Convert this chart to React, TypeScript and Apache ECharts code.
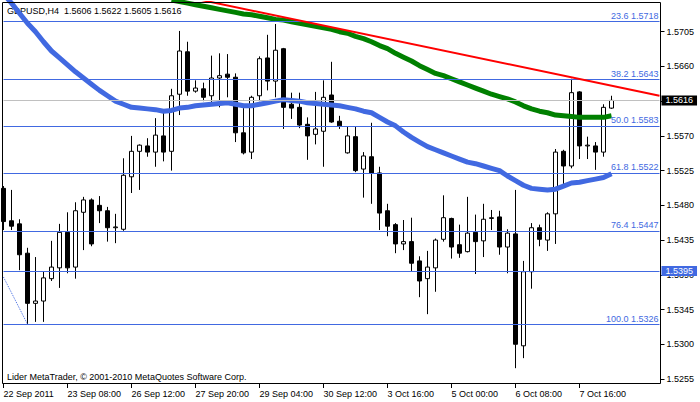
import React, { useEffect, useRef } from 'react';
import * as echarts from 'echarts';

// ---------- data ----------
const symbolName = 'GBPUSD,H4';
const copyrightText = 'Lider MetaTrader, © 2001-2010 MetaQuotes Software Corp.';
const xTickLabels = ['22 Sep 2011', '23 Sep 08:00', '26 Sep 12:00', '27 Sep 20:00', '29 Sep 04:00', '30 Sep 12:00', '3 Oct 16:00', '5 Oct 00:00', '6 Oct 08:00', '7 Oct 16:00'];
const barsPerLabel = 8;
const totalSlots = 83; // 77 bars + right chart shift

const opens = [1.5502, 1.5460, 1.5456, 1.5418, 1.5353, 1.5356, 1.5385, 1.5399, 1.5445, 1.5400,
  1.5471, 1.5487, 1.5480, 1.5473, 1.5451, 1.5449, 1.5517, 1.5550, 1.5557, 1.5549,
  1.5570, 1.5550, 1.5624, 1.5679, 1.5628, 1.5631, 1.5622, 1.5645, 1.5650, 1.5646,
  1.5574, 1.5549, 1.5622, 1.5671, 1.5641, 1.5683, 1.5611, 1.5607, 1.5585, 1.5572,
  1.5576, 1.5623, 1.5589, 1.5548, 1.5569, 1.5527, 1.5543, 1.5522, 1.5473, 1.5455,
  1.5430, 1.5433, 1.5408, 1.5385, 1.5399, 1.5436, 1.5463, 1.5429, 1.5420, 1.5445,
  1.5434, 1.5463, 1.5465, 1.5426, 1.5443, 1.5298, 1.5394, 1.5451, 1.5435, 1.5469,
  1.5550, 1.5531, 1.5627, 1.5557, 1.5557, 1.5549, 1.5606];
const highs = [1.5505, 1.5500, 1.5462, 1.5425, 1.5413, 1.5394, 1.5434, 1.5456, 1.5471, 1.5484,
  1.5491, 1.5489, 1.5492, 1.5478, 1.5469, 1.5541, 1.5570, 1.5559, 1.5567, 1.5593,
  1.5600, 1.5631, 1.5706, 1.5692, 1.5642, 1.5639, 1.5674, 1.5677, 1.5676, 1.5651,
  1.5606, 1.5622, 1.5673, 1.5701, 1.5715, 1.5684, 1.5626, 1.5626, 1.5594, 1.5627,
  1.5642, 1.5666, 1.5596, 1.5582, 1.5582, 1.5549, 1.5587, 1.5530, 1.5482, 1.5457,
  1.5461, 1.5464, 1.5414, 1.5421, 1.5437, 1.5493, 1.5464, 1.5455, 1.5491, 1.5468,
  1.5482, 1.5474, 1.5473, 1.5449, 1.5500, 1.5408, 1.5457, 1.5455, 1.5471, 1.5553,
  1.5552, 1.5644, 1.5628, 1.5569, 1.5562, 1.5611, 1.5622];
const lows = [1.5448, 1.5448, 1.5396, 1.5326, 1.5329, 1.5329, 1.5382, 1.5373, 1.5392, 1.5385,
  1.5422, 1.5427, 1.5457, 1.5433, 1.5431, 1.5447, 1.5496, 1.5500, 1.5543, 1.5530,
  1.5537, 1.5525, 1.5597, 1.5622, 1.5626, 1.5615, 1.5614, 1.5607, 1.5620, 1.5562,
  1.5546, 1.5540, 1.5615, 1.5629, 1.5620, 1.5579, 1.5592, 1.5580, 1.5539, 1.5559,
  1.5530, 1.5587, 1.5579, 1.5547, 1.5523, 1.5490, 1.5482, 1.5448, 1.5440, 1.5418,
  1.5422, 1.5395, 1.5361, 1.5339, 1.5368, 1.5433, 1.5411, 1.5412, 1.5419, 1.5391,
  1.5413, 1.5448, 1.5416, 1.5392, 1.5269, 1.5282, 1.5372, 1.5427, 1.5421, 1.5430,
  1.5506, 1.5528, 1.5540, 1.5540, 1.5526, 1.5543, 1.5605];
const closes = [1.5459, 1.5453, 1.5416, 1.5353, 1.5356, 1.5386, 1.5400, 1.5445, 1.5399, 1.5473,
  1.5487, 1.5430, 1.5473, 1.5451, 1.5452, 1.5519, 1.5550, 1.5558, 1.5549, 1.5571,
  1.5549, 1.5622, 1.5680, 1.5628, 1.5632, 1.5620, 1.5645, 1.5648, 1.5646, 1.5574,
  1.5548, 1.5620, 1.5670, 1.5641, 1.5681, 1.5607, 1.5606, 1.5584, 1.5570, 1.5579,
  1.5620, 1.5588, 1.5583, 1.5570, 1.5525, 1.5544, 1.5522, 1.5470, 1.5453, 1.5430,
  1.5433, 1.5405, 1.5382, 1.5400, 1.5435, 1.5464, 1.5426, 1.5418, 1.5444, 1.5433,
  1.5462, 1.5464, 1.5426, 1.5444, 1.5300, 1.5394, 1.5451, 1.5436, 1.5469, 1.5549,
  1.5531, 1.5626, 1.5557, 1.5558, 1.5549, 1.5607, 1.5616];

// moving averages
const blueMA = [1.5754, 1.5742, 1.5729, 1.5716, 1.5705, 1.5692, 1.5680, 1.5671, 1.5662, 1.5653,
  1.5645, 1.5637, 1.5629, 1.5622, 1.5615, 1.5611, 1.5607, 1.5606, 1.5605, 1.5604,
  1.5602, 1.5603, 1.5606, 1.5607, 1.5609, 1.5610, 1.5611, 1.5612, 1.5613, 1.5611,
  1.5609, 1.5609, 1.5611, 1.5613, 1.5615, 1.5617, 1.5616, 1.5615, 1.5613, 1.5612,
  1.5611, 1.5610, 1.5609, 1.5607, 1.5605, 1.5602, 1.5600, 1.5594, 1.5588, 1.5583,
  1.5575, 1.5568, 1.5562, 1.5556, 1.5552, 1.5548, 1.5544, 1.5540, 1.5536, 1.5534,
  1.5531, 1.5528, 1.5525, 1.5518, 1.5512, 1.5506, 1.5502, 1.5501, 1.5500, 1.5501,
  1.5505, 1.5509, 1.5510, 1.5512, 1.5514, 1.5516, 1.5521];
const greenMAStart = 21;
const greenMA = [1.5746, 1.5744, 1.5742, 1.5740, 1.5738, 1.5736, 1.5734, 1.5732, 1.5730, 1.5728,
  1.5727, 1.5725, 1.5723, 1.5721, 1.5720, 1.5718, 1.5716, 1.5714, 1.5712, 1.5710,
  1.5708, 1.5705, 1.5703, 1.5699, 1.5696, 1.5692, 1.5687, 1.5683, 1.5677, 1.5672,
  1.5667, 1.5661, 1.5656, 1.5651, 1.5648, 1.5644, 1.5640, 1.5636, 1.5632, 1.5628,
  1.5624, 1.5621, 1.5618, 1.5614, 1.5609, 1.5605, 1.5602, 1.5600, 1.5597, 1.5596,
  1.5595, 1.5594, 1.5594, 1.5594, 1.5594, 1.5596];

// objects
const redTrendIndex = [22, 82];
const redTrendPrice = [1.5752, 1.5622];
const fibTrendIndex = [0, 3];
const fibTrendPrice = [1.5387, 1.5326];
const fibLevels = ['23.6', '38.2', '50.0', '61.8', '76.4', '100.0'];
const fibPrices = [1.5718, 1.5643, 1.5583, 1.5522, 1.5447, 1.5326];
const hLinePrice = 1.5395;

// axis
const yMin = 1.52485;
const yMax = 1.57435;
const yTickValues = [1.5255, 1.5300, 1.5345, 1.5390, 1.5435, 1.5480, 1.5525, 1.5570, 1.5615, 1.5660, 1.5705];

// ---------- chart ----------
const FONT = 'Liberation Sans';
const ROYAL = '#4169E1';

export default function App() {
  const ref = useRef<HTMLDivElement>(null);

  useEffect(() => {
    if (!ref.current) return;
    const chart = echarts.init(ref.current, undefined, { renderer: 'svg' });
    const categories = Array.from({ length: totalSlots }, (_, i) => String(i));
    const candles = opens.map((o, i) => [o, closes[i], lows[i], highs[i]]);
    const last = opens.length - 1;
    const title = `${symbolName}  ${opens[last].toFixed(4)} ${highs[last].toFixed(4)} ${lows[last].toFixed(4)} ${closes[last].toFixed(4)}`;
    const showTick = (index: number) => index % barsPerLabel === 0 && index / barsPerLabel < xTickLabels.length;

    const fibMarks = fibPrices.map((p, i) => ({
      yAxis: p,
      lineStyle: { color: ROYAL, width: 1, type: 'solid' },
      label: {
        show: true,
        position: 'insideEndTop',
        formatter: `${fibLevels[i]} ${p.toFixed(4)}`,
        color: ROYAL,
        fontSize: 9,
        fontFamily: FONT,
        distance: [1, 1],
      },
    }));

    const option: any = {
      animation: false,
      backgroundColor: '#fff',
      grid: { left: 3.5, top: 2, width: 656, height: 382, containLabel: false },
      xAxis: {
        type: 'category',
        data: categories,
        boundaryGap: false,
        axisLine: { show: false },
        axisTick: { show: true, interval: showTick, length: 4, lineStyle: { color: '#000' } },
        axisLabel: {
          interval: showTick,
          formatter: (_v: string, idx: number) => (showTick(idx) ? xTickLabels[idx / barsPerLabel] : ''),
          align: 'left',
          margin: 5,
          color: '#000',
          fontSize: 9,
          fontFamily: FONT,
        },
        splitLine: { show: false },
      },
      yAxis: {
        type: 'value',
        position: 'right',
        min: yMin,
        max: yMax,
        offset: 1,
        axisLine: { show: false },
        axisTick: { show: true, length: 4, customValues: yTickValues, lineStyle: { color: '#000' } },
        axisLabel: {
          customValues: yTickValues,
          formatter: (v: number) => v.toFixed(4),
          color: '#000',
          fontSize: 9,
          fontFamily: FONT,
          margin: 6,
        },
        splitLine: { show: false },
      },
      graphic: [
        {
          type: 'text', left: 7, top: 6, z: 0,
          style: { text: title, fill: '#000', font: `9px "${FONT}"` },
        },
        {
          type: 'text', left: 7, top: 372, z: 0,
          style: { text: copyrightText, fill: '#000', font: `9px "${FONT}"` },
        },
        {
          type: 'rect', z: 100, silent: true,
          shape: { x: 2.5, y: 2.5, width: 658, height: 381 },
          style: { fill: 'none', stroke: '#000', lineWidth: 1 },
        },
      ],
      series: [
        {
          name: 'levels',
          type: 'line',
          data: closes,
          symbol: 'none',
          z: 1,
          silent: true,
          lineStyle: { opacity: 0, width: 0 },
          markLine: {
            silent: true,
            symbol: ['none', 'none'],
            animation: false,
            precision: 4,
            data: [
              ...fibMarks,
              {
                yAxis: hLinePrice,
                lineStyle: { color: ROYAL, width: 1, type: 'solid' },
                label: {
                  show: true, position: 'end', distance: 2,
                  formatter: hLinePrice.toFixed(4),
                  backgroundColor: ROYAL, color: '#fff',
                  fontSize: 9, fontFamily: FONT, padding: [1, 4, 0, 4],
                },
              },
              {
                yAxis: closes[last],
                lineStyle: { color: '#c0c0c0', width: 1, type: 'solid' },
                label: {
                  show: true, position: 'end', distance: 2,
                  formatter: closes[last].toFixed(4),
                  backgroundColor: '#000', color: '#fff',
                  fontSize: 9, fontFamily: FONT, padding: [1, 4, 0, 4],
                },
              },
            ],
          },
        },
        {
          name: 'GBPUSD',
          type: 'candlestick',
          data: candles,
          barWidth: 4,
          clip: false,
          z: 2,
          itemStyle: {
            color: '#fff',
            color0: '#000',
            borderColor: '#000',
            borderColor0: '#000',
            borderWidth: 1,
          },
        },
        {
          name: 'fibTrend',
          type: 'line',
          data: fibTrendIndex.map((x, i) => [x, fibTrendPrice[i]]),
          symbol: 'none',
          z: 3,
          lineStyle: { color: ROYAL, width: 1, type: 'dotted' },
        },
        {
          name: 'blueMA',
          type: 'line',
          data: blueMA,
          symbol: 'none',
          z: 4,
          lineStyle: { color: ROYAL, width: 5 },
        },
        {
          name: 'greenMA',
          type: 'line',
          data: greenMA.map((v, i) => [i + greenMAStart, v]),
          symbol: 'none',
          z: 4,
          lineStyle: { color: '#008000', width: 5 },
        },
        {
          name: 'redTrend',
          type: 'line',
          data: redTrendIndex.map((x, i) => [x, redTrendPrice[i]]),
          symbol: 'none',
          z: 5,
          lineStyle: { color: '#ff0000', width: 2 },
        },
      ],
    };
    chart.setOption(option);
    return () => chart.dispose();
  }, []);

  return (
    <div
      ref={ref}
      style={{ position: 'fixed', left: 0, top: 0, width: 700, height: 402, background: '#fff' }}
    />
  );
}
